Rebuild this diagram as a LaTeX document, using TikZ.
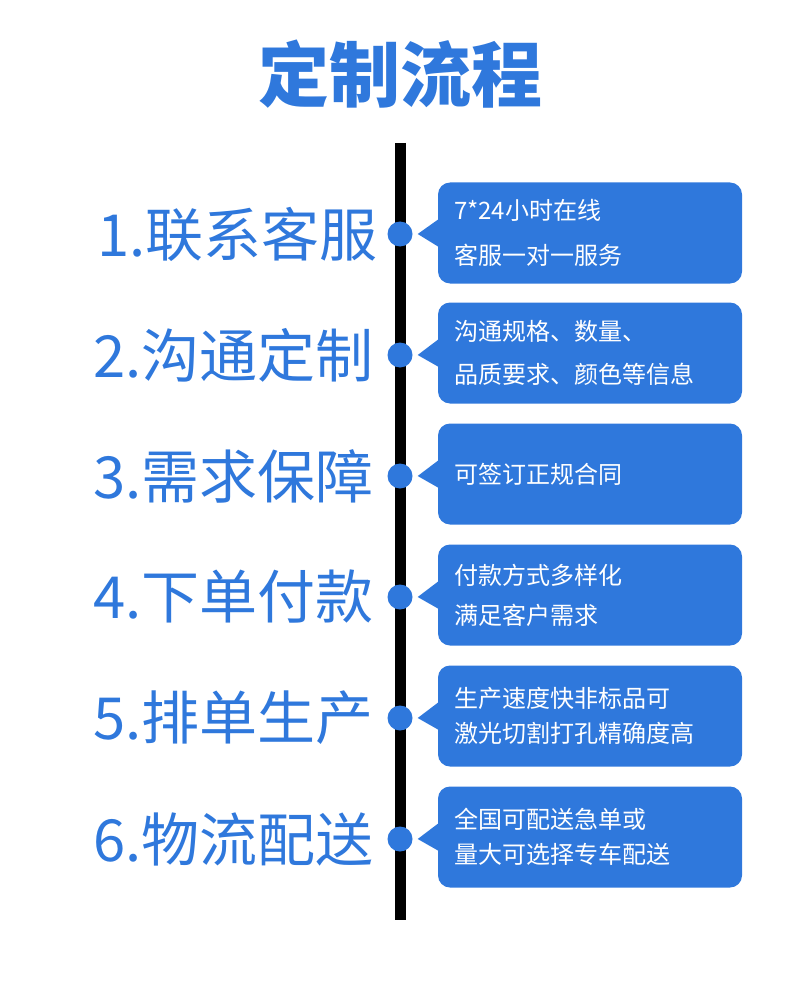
\documentclass[tikz,border=0pt]{standalone}
\usepackage{fontspec}
\setmainfont{Noto Sans CJK SC}
\usetikzlibrary{positioning,calc}
\definecolor{flowblue}{HTML}{2F78DC}

\begin{document}
\begin{tikzpicture}[x=1pt,y=-1pt]
  \tikzset{
    stepdot/.style={circle,fill=flowblue,minimum size=25pt,inner sep=0pt},
    stepname/.style={anchor=east,text=flowblue,inner sep=0pt,font=\fontsize{58}{60}\selectfont},
    infobox/.style={
      fill=flowblue,
      rounded corners=12pt,
      text=white,
      align=left,
      inner sep=0pt,
      minimum width=304pt,
      minimum height=101pt,
      text width=272pt
    }
  }
  \useasboundingbox (0,0) rectangle (800,1000);

  \node[text=flowblue,font=\fontsize{71}{74}\selectfont\bfseries] (title) at (400,74) {定制流程};

  \coordinate (top) at (400,143);
  \coordinate (bot) at (400,920);
  \draw[line width=11pt] (top) -- (bot);

  \node[stepdot] (d1) at (400,234) {};
  \node[stepdot] (d2) at (400,355) {};
  \node[stepdot] (d3) at (400,476) {};
  \node[stepdot] (d4) at (400,597) {};
  \node[stepdot] (d5) at (400,718) {};
  \node[stepdot] (d6) at (400,839) {};

  \node[stepname] (l1) at (378,234) {1.联系客服};
  \node[stepname] (l2) at (374,355) {2.沟通定制};
  \node[stepname] (l3) at (374,476) {3.需求保障};
  \node[stepname] (l4) at (374,597) {4.下单付款};
  \node[stepname] (l5) at (374,718) {5.排单生产};
  \node[stepname] (l6) at (374,839) {6.物流配送};

  \node[infobox,font=\fontsize{24}{45}\selectfont] (b1) at (590,233) {7*24小时在线\\客服一对一服务};
  \node[infobox,font=\fontsize{24}{43}\selectfont] (b2) at (590,353) {沟通规格、数量、\\品质要求、颜色等信息};
  \node[infobox,font=\fontsize{24}{40}\selectfont] (b3) at (590,474) {可签订正规合同};
  \node[infobox,font=\fontsize{24}{40}\selectfont] (b4) at (590,595) {付款方式多样化\\满足客户需求};
  \node[infobox,font=\fontsize{24}{35}\selectfont] (b5) at (590,716) {生产速度快非标品可\\激光切割打孔精确度高};
  \node[infobox,font=\fontsize{24}{35}\selectfont] (b6) at (590,837) {全国可配送急单或\\量大可选择专车配送};

  \fill[flowblue] ($(b1.west)+(1,-14)$) -- ($(d1.east)+(5,0)$) -- ($(b1.west)+(1,14)$) -- cycle;
  \fill[flowblue] ($(b2.west)+(1,-14)$) -- ($(d2.east)+(5,0)$) -- ($(b2.west)+(1,14)$) -- cycle;
  \fill[flowblue] ($(b3.west)+(1,-14)$) -- ($(d3.east)+(5,0)$) -- ($(b3.west)+(1,14)$) -- cycle;
  \fill[flowblue] ($(b4.west)+(1,-14)$) -- ($(d4.east)+(5,0)$) -- ($(b4.west)+(1,14)$) -- cycle;
  \fill[flowblue] ($(b5.west)+(1,-14)$) -- ($(d5.east)+(5,0)$) -- ($(b5.west)+(1,14)$) -- cycle;
  \fill[flowblue] ($(b6.west)+(1,-14)$) -- ($(d6.east)+(5,0)$) -- ($(b6.west)+(1,14)$) -- cycle;
\end{tikzpicture}
\end{document}
